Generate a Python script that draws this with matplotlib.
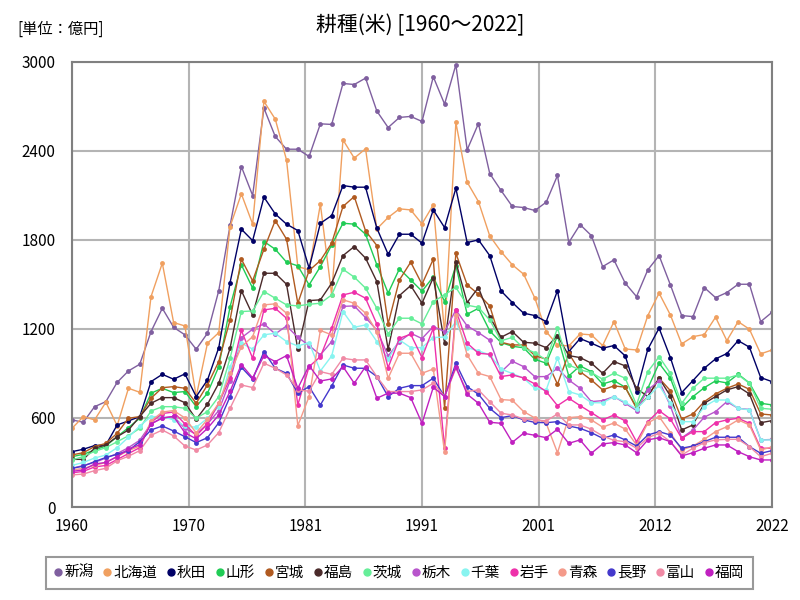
import numpy as np
import matplotlib
matplotlib.use("Agg")
import matplotlib.pyplot as plt
from matplotlib.lines import Line2D

plt.rcParams['font.family'] = ['Noto Sans CJK JP', 'DejaVu Sans']

years = list(range(1960, 2023))

# 単位: 億円
niigata = [587, 571, 676, 710, 840, 917, 962, 1182, 1339, 1211,
           1160, 1063, 1171, 1458, 1897, 2294, 2099, 2688, 2497, 2411,
           2411, 2362, 2582, 2578, 2854, 2847, 2890, 2668, 2557, 2625,
           2632, 2598, 2899, 2715, 2980, 2407, 2584, 2247, 2133, 2025,
           2018, 1998, 2054, 2234, 1782, 1903, 1829, 1620, 1665, 1508,
           1418, 1598, 1694, 1497, 1290, 1283, 1479, 1411, 1445, 1501,
           1501, 1249, 1312]
hokkaido = [530, 609, 587, 706, 548, 800, 773, 1418, 1643, 1243,
            1220, 744, 1104, 1175, 1890, 2110, 1906, 2733, 2614, 2339,
            1620, 1598, 2041, 1429, 2474, 2351, 2414, 1874, 1951, 2009,
            2002, 1908, 2036, 1170, 2591, 2189, 2058, 1827, 1721, 1632,
            1569, 1407, 1182, 1092, 1085, 1166, 1160, 1088, 1249, 1065,
            1058, 1290, 1441, 1294, 1099, 1148, 1162, 1279, 1121, 1249,
            1198, 1032, 1058]
akita = [373, 389, 414, 418, 553, 580, 609, 845, 894, 861,
         897, 744, 856, 1074, 1512, 1872, 1795, 2088, 1975, 1906,
         1863, 1610, 1912, 1964, 2166, 2155, 2155, 1879, 1703, 1838,
         1838, 1778, 2002, 1883, 2148, 1782, 1800, 1694, 1456, 1378,
         1306, 1290, 1249, 1458, 1047, 1135, 1104, 1070, 1088, 1018,
         778, 1063, 1205, 1007, 771, 852, 935, 998, 1034, 1121,
         1077, 872, 845]
yamagata = [339, 355, 384, 411, 474, 535, 598, 767, 800, 771,
            778, 676, 767, 946, 1350, 1632, 1475, 1789, 1737, 1650,
            1625, 1497, 1620, 1766, 1912, 1906, 1838, 1632, 1441, 1605,
            1530, 1454, 1551, 1384, 1627, 1299, 1339, 1187, 1108, 1083,
            1073, 995, 969, 1153, 883, 951, 912, 829, 852, 807,
            672, 800, 969, 868, 668, 744, 804, 850, 836, 895,
            836, 699, 688]
miyagi = [351, 366, 407, 429, 497, 598, 609, 733, 804, 811,
          800, 699, 823, 980, 1261, 1670, 1524, 1737, 1930, 1805,
          1373, 1593, 1661, 1778, 2025, 2092, 1861, 1762, 1234, 1530,
          1650, 1501, 1670, 665, 1710, 1497, 1434, 1355, 1110, 1092,
          1092, 1020, 996, 827, 1036, 912, 856, 789, 816, 807,
          665, 744, 868, 784, 593, 627, 710, 762, 800, 829,
          793, 627, 620]
fukushima = [321, 321, 396, 418, 474, 519, 609, 699, 737, 737,
             703, 591, 692, 834, 1070, 1458, 1294, 1575, 1575, 1501,
             1063, 1391, 1396, 1508, 1694, 1755, 1677, 1519, 1063, 1425,
             1492, 1373, 1546, 1104, 1650, 1378, 1479, 1283, 1144, 1182,
             1110, 1104, 1074, 1155, 1020, 1007, 969, 901, 980, 951,
             800, 744, 868, 748, 519, 553, 699, 744, 789, 811,
             762, 568, 582]
ibaraki = [317, 340, 375, 400, 440, 480, 530, 647, 676, 676,
           665, 598, 643, 744, 1002, 1317, 1321, 1452, 1407, 1362,
           1355, 1366, 1373, 1429, 1602, 1549, 1475, 1339, 1166, 1272,
           1272, 1234, 1384, 1430, 1480, 1360, 1345, 1260, 1120, 1143,
           1070, 1040, 991, 1205, 957, 924, 906, 861, 901, 868,
           688, 912, 1013, 901, 699, 800, 868, 868, 868, 890,
           834, 665, 659]
tochigi = [260, 280, 300, 330, 360, 400, 450, 560, 600, 610,
           530, 490, 560, 650, 850, 1140, 1198, 1234, 1166, 1220,
           1144, 1088, 1025, 1115, 1352, 1355, 1276, 1193, 1018, 1115,
           1171, 1135, 1216, 1182, 1328, 1220, 1175, 1124, 910, 982,
           946, 878, 879, 935, 856, 800, 710, 717, 744, 699,
           650, 789, 850, 681, 466, 519, 605, 643, 710, 665,
           657, 452, 455]
chiba = [280, 300, 330, 350, 400, 470, 546, 609, 609, 587,
         546, 537, 598, 676, 946, 1104, 1064, 1160, 1171, 1115,
         1085, 1108, 917, 1018, 1317, 1211, 1227, 1115, 996, 1126,
         1074, 1074, 1142, 1145, 1249, 1074, 1052, 1025, 930, 899,
         868, 800, 789, 1005, 778, 755, 703, 702, 744, 706,
         660, 740, 820, 699, 575, 575, 676, 721, 721, 665,
         654, 452, 452]
iwate = [230, 240, 270, 280, 320, 360, 400, 570, 630, 640,
         560, 480, 560, 700, 868, 1190, 1002, 1328, 1339, 1272,
         688, 946, 1013, 1205, 1429, 1447, 1407, 1232, 939, 1137,
         1164, 1007, 1205, 396, 1328, 1104, 1036, 1029, 879, 890,
         870, 829, 778, 683, 733, 683, 636, 587, 620, 580,
         440, 575, 649, 593, 463, 508, 508, 568, 587, 598,
         564, 396, 396]
aomori = [250, 260, 280, 300, 340, 380, 410, 580, 640, 650,
          600, 500, 590, 700, 900, 1080, 1148, 1362, 1369, 1306,
          548, 744, 1190, 1160, 1396, 1373, 1306, 1182, 868, 1036,
          1036, 901, 930, 369, 1295, 1025, 901, 879, 724, 719,
          643, 600, 564, 366, 602, 609, 587, 538, 566, 525,
          418, 566, 609, 501, 384, 411, 456, 508, 541, 587,
          553, 384, 405]
nagano = [261, 275, 306, 334, 355, 380, 440, 519, 546, 512,
          474, 434, 467, 568, 744, 942, 861, 1047, 935, 901,
          767, 811, 688, 816, 957, 935, 935, 879, 744, 800,
          818, 818, 868, 744, 969, 811, 760, 665, 602, 616,
          587, 570, 568, 575, 546, 530, 501, 463, 485, 452,
          411, 485, 508, 485, 396, 411, 440, 470, 470, 470,
          407, 362, 380]
toyama = [216, 222, 245, 261, 312, 342, 380, 483, 519, 479,
          411, 384, 418, 502, 665, 822, 805, 969, 935, 890,
          790, 780, 912, 894, 1002, 991, 991, 879, 778, 778,
          778, 789, 834, 744, 935, 778, 789, 710, 632, 620,
          593, 587, 580, 627, 553, 553, 524, 479, 449, 440,
          396, 467, 497, 440, 350, 396, 434, 452, 456, 456,
          407, 339, 362]
fukuoka = [240, 250, 290, 300, 340, 390, 420, 560, 600, 610,
           500, 460, 530, 620, 780, 960, 870, 1020, 980, 1020,
           800, 953, 849, 863, 946, 834, 946, 733, 767, 767,
           737, 564, 807, 744, 946, 760, 699, 571, 564, 436,
           497, 483, 467, 524, 429, 452, 362, 425, 434, 418,
           366, 452, 467, 440, 344, 366, 396, 418, 418, 373,
           339, 317, 317]

names = ['新潟', '北海道', '秋田', '山形', '宮城', '福島', '茨城',
         '栃木', '千葉', '岩手', '青森', '長野', '富山', '福岡']
series = [niigata, hokkaido, akita, yamagata, miyagi, fukushima, ibaraki,
          tochigi, chiba, iwate, aomori, nagano, toyama, fukuoka]
colors = ['#7f5f9f', '#f0a060', '#000066', '#20cc55', '#b05a20', '#4a2a2a', '#66ee99',
          '#b855cc', '#88f4f0', '#ee30aa', '#f49a8a', '#4438cc', '#f08aa5', '#c020c0']

fig = plt.figure(figsize=(8, 6), dpi=100)
ax = fig.add_axes([0.09, 0.155, 0.875, 0.742])

for name, vals, c in zip(names, series, colors):
    ax.plot(years, vals, color=c, lw=1.0, marker='o', ms=3.5,
            markeredgewidth=0, label=name)

ax.set_xlim(1960, 2022)
ax.set_ylim(0, 3000)
ax.set_yticks(range(0, 3001, 600))
xt = np.linspace(1960, 2022, 7)
ax.set_xticks(xt)
ax.set_xticklabels([str(int(round(v))) for v in xt])
ax.tick_params(length=0, labelsize=11)
ax.tick_params(axis='x', pad=8)
ax.tick_params(axis='y', pad=12)
ax.grid(True, color='#b4b4b4', lw=1.5)
ax.set_axisbelow(True)
for s in ax.spines.values():
    s.set_color('#808080')
    s.set_linewidth(1.5)

fig.text(0.525, 0.958, '耕種(米) [1960～2022]', fontsize=15, ha='center', va='center')
fig.text(0.022, 0.952, '[単位：億円]', fontsize=11, ha='left', va='center')

handles = [Line2D([], [], color=c, marker='o', linestyle='None', ms=5) for c in colors]
leg = fig.legend(handles, names, loc='center', bbox_to_anchor=(0.4995, 0.045),
                 ncol=14, fontsize=10.5, handlelength=0.5, handletextpad=0.15,
                 columnspacing=0.7, frameon=True, fancybox=False, borderpad=0.6,
                 borderaxespad=0)
leg.get_frame().set_edgecolor('#808080')
leg.get_frame().set_linewidth(1.5)

fig.savefig('out.png', dpi=100)
